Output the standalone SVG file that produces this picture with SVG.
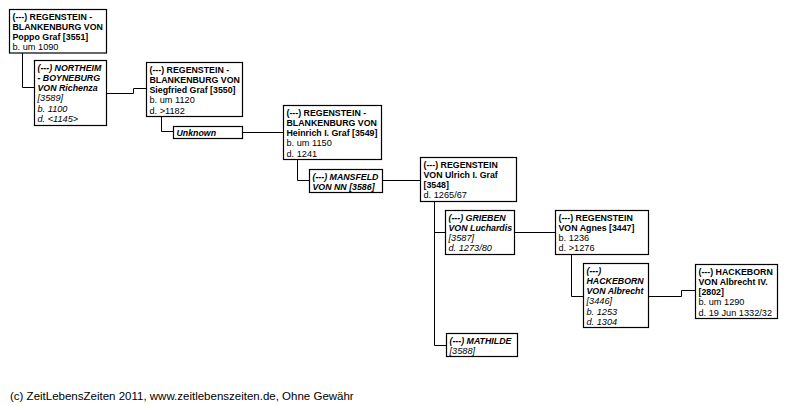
<svg xmlns="http://www.w3.org/2000/svg" width="789" height="405" viewBox="0 0 789 405">
<style>
.box{fill:#fff;stroke:#000;stroke-width:1.2}
.con path{fill:none;stroke:#000;stroke-width:1}
text{font-family:"Liberation Sans",Arial,sans-serif;fill:#000}
.b{font-size:8.8px;font-weight:bold}
.r{font-size:9.2px}
.bi{font-size:8.8px;font-weight:bold;font-style:italic}
.i{font-size:9.2px;font-style:italic}
.foot{font-size:11.5px}
</style>
<rect width="789" height="405" fill="#fff"/>
<g class="con">
<path d="M22.5,53 V87.5 H34.5"/>
<path d="M106,93.5 H133.5 V88.5 H146"/>
<path d="M161.5,116 V131.5 H173"/>
<path d="M243,132.5 H283"/>
<path d="M297.5,159 V180.5 H309"/>
<path d="M383,180.5 H420"/>
<path d="M434.5,202 V345.5 H446"/>
<path d="M434.5,232.5 H445"/>
<path d="M514,232.5 H555"/>
<path d="M571.5,254 V296.5 H583"/>
<path d="M648,296.5 H681.5 V290.5 H695"/>
</g>
<g id="n3551">
<rect class="box" x="9.5" y="9.5" width="97" height="43.5"/>
<text x="12.5" y="19.5" class="b">(---) REGENSTEIN -</text>
<text x="12.5" y="29.8" class="b">BLANKENBURG VON</text>
<text x="12.5" y="40.1" class="b">Poppo Graf [3551]</text>
<text x="12.5" y="50.4" class="r">b. um 1090</text>
</g>
<g id="n3589">
<rect class="box" x="34.5" y="60.5" width="72" height="65"/>
<text x="37.5" y="70.5" class="bi">(---) NORTHEIM</text>
<text x="37.5" y="80.8" class="bi">- BOYNEBURG</text>
<text x="37.5" y="91.1" class="bi">VON Richenza</text>
<text x="37.5" y="101.4" class="i">[3589]</text>
<text x="37.5" y="111.7" class="i">b. 1100</text>
<text x="37.5" y="122" class="i">d. &lt;1145&gt;</text>
</g>
<g id="n3550">
<rect class="box" x="146.5" y="62.5" width="96" height="54"/>
<text x="149.5" y="72.5" class="b">(---) REGENSTEIN -</text>
<text x="149.5" y="82.8" class="b">BLANKENBURG VON</text>
<text x="149.5" y="93.1" class="b">Siegfried Graf [3550]</text>
<text x="149.5" y="103.4" class="r">b. um 1120</text>
<text x="149.5" y="113.7" class="r">d. &gt;1182</text>
</g>
<g id="unknown">
<rect class="box" x="173.5" y="126.5" width="69" height="12"/>
<text x="176.5" y="135.6" class="bi">Unknown</text>
</g>
<g id="n3549">
<rect class="box" x="283.5" y="105.5" width="98" height="54"/>
<text x="286.5" y="115.5" class="b">(---) REGENSTEIN -</text>
<text x="286.5" y="125.8" class="b">BLANKENBURG VON</text>
<text x="286.5" y="136.1" class="b">Heinrich I. Graf [3549]</text>
<text x="286.5" y="146.4" class="r">b. um 1150</text>
<text x="286.5" y="156.7" class="r">d. 1241</text>
</g>
<g id="n3586">
<rect class="box" x="309.5" y="169.5" width="73" height="23"/>
<text x="312.5" y="179.5" class="bi">(---) MANSFELD</text>
<text x="312.5" y="189.8" class="bi">VON NN [3586]</text>
</g>
<g id="n3548">
<rect class="box" x="420.5" y="157.5" width="96" height="44"/>
<text x="423.5" y="167.5" class="b">(---) REGENSTEIN</text>
<text x="423.5" y="177.8" class="b">VON Ulrich I. Graf</text>
<text x="423.5" y="188.1" class="b">[3548]</text>
<text x="423.5" y="198.4" class="r">d. 1265/67</text>
</g>
<g id="n3587">
<rect class="box" x="445.5" y="210.5" width="69" height="44"/>
<text x="448.5" y="220.5" class="bi">(---) GRIEBEN</text>
<text x="448.5" y="230.8" class="bi">VON Luchardis</text>
<text x="448.5" y="241.1" class="i">[3587]</text>
<text x="448.5" y="251.4" class="i">d. 1273/80</text>
</g>
<g id="n3588">
<rect class="box" x="446.5" y="333.5" width="71" height="23"/>
<text x="449.5" y="343.5" class="bi">(---) MATHILDE</text>
<text x="449.5" y="353.8" class="i">[3588]</text>
</g>
<g id="n3447">
<rect class="box" x="555.5" y="210.5" width="93" height="44"/>
<text x="558.5" y="220.5" class="b">(---) REGENSTEIN</text>
<text x="558.5" y="230.8" class="b">VON Agnes [3447]</text>
<text x="558.5" y="241.1" class="r">b. 1236</text>
<text x="558.5" y="251.4" class="r">d. &gt;1276</text>
</g>
<g id="n3446">
<rect class="box" x="583.5" y="263.5" width="65" height="64"/>
<text x="586.5" y="273.5" class="bi">(---)</text>
<text x="586.5" y="283.8" class="bi">HACKEBORN</text>
<text x="586.5" y="294.1" class="bi">VON Albrecht</text>
<text x="586.5" y="304.4" class="i">[3446]</text>
<text x="586.5" y="314.7" class="i">b. 1253</text>
<text x="586.5" y="325" class="i">d. 1304</text>
</g>
<g id="n2802">
<rect class="box" x="695.5" y="264.5" width="82" height="54"/>
<text x="698.5" y="274.5" class="b">(---) HACKEBORN</text>
<text x="698.5" y="284.8" class="b">VON Albrecht IV.</text>
<text x="698.5" y="295.1" class="b">[2802]</text>
<text x="698.5" y="305.4" class="r">b. um 1290</text>
<text x="698.5" y="315.7" class="r">d. 19 Jun 1332/32</text>
</g>
<text x="10" y="400" class="foot">(c) ZeitLebensZeiten 2011, www.zeitlebenszeiten.de, Ohne Gewähr</text>
</svg>
